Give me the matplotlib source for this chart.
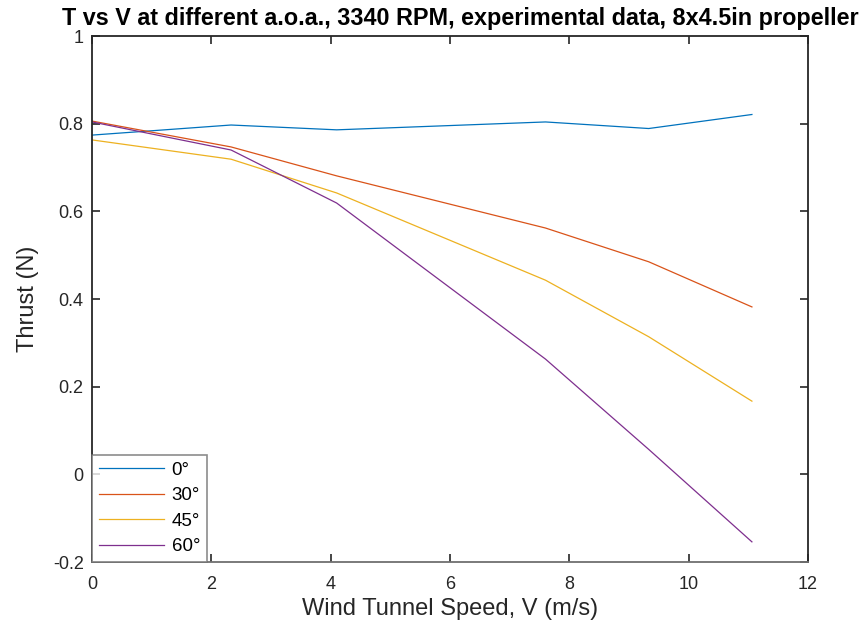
import matplotlib
matplotlib.use('Agg')
import matplotlib.pyplot as plt

# wind tunnel speeds (m/s) and measured thrust (N) per angle of attack
speed = [0.0, 2.33, 4.1, 7.6, 9.33, 11.06]
thrust_0 = [0.774, 0.797, 0.786, 0.804, 0.789, 0.821]
thrust_30 = [0.806, 0.747, 0.681, 0.562, 0.485, 0.382]
thrust_45 = [0.763, 0.719, 0.642, 0.443, 0.314, 0.167]
thrust_60 = [0.804, 0.740, 0.619, 0.263, 0.057, -0.154]
labels = ['0\u00b0', '30\u00b0', '45\u00b0', '60\u00b0']
colors = ['#0072BD', '#D95319', '#EDB120', '#7E2F8E']

plt.rcParams['font.family'] = ['Liberation Sans', 'DejaVu Sans']

fig = plt.figure(figsize=(8.65, 6.3), dpi=100)
ax = fig.add_axes([0.1064, 0.1079, 0.8277, 0.8349])

for y, lab, col in zip([thrust_0, thrust_30, thrust_45, thrust_60],
                       labels, colors):
    ax.plot(speed, y, color=col, linewidth=0.9, label=lab)

ax.set_xlim(0, 12)
ax.set_ylim(-0.2, 1)
ax.set_xticks([0, 2, 4, 6, 8, 10, 12])
ax.set_yticks([-0.2, 0, 0.2, 0.4, 0.6, 0.8, 1])
ax.set_yticklabels(['-0.2', '0', '0.2', '0.4', '0.6', '0.8', '1'])
ax.tick_params(direction='in', length=6, width=1.2, top=True, right=True,
               labelsize=13, colors='#262626', pad=6)
ax.tick_params(axis='x', pad=10)
for side in ['left', 'right', 'top']:
    ax.spines[side].set_color('#262626')
    ax.spines[side].set_linewidth(1.3)
ax.spines['bottom'].set_color('#707070')
ax.spines['bottom'].set_linewidth(1.3)

ax.set_xlabel('Wind Tunnel Speed, V (m/s)', fontsize=17, color='#262626',
              labelpad=4)
ax.set_ylabel('Thrust (N)', fontsize=17, color='#262626', labelpad=10)
ax.set_title('T vs V at different a.o.a., 3340 RPM, experimental data, '
             '8x4.5in propeller', fontsize=16.8, fontweight='bold',
             x=0.515, pad=8)

leg = ax.legend(loc='lower left', borderaxespad=0, fancybox=False,
                fontsize=13.5, handlelength=3.5, handletextpad=0.4,
                labelspacing=0.45, borderpad=0.35)
leg.get_frame().set_edgecolor('#707070')
leg.get_frame().set_linewidth(1.2)

fig.savefig('out.png', dpi=100)
